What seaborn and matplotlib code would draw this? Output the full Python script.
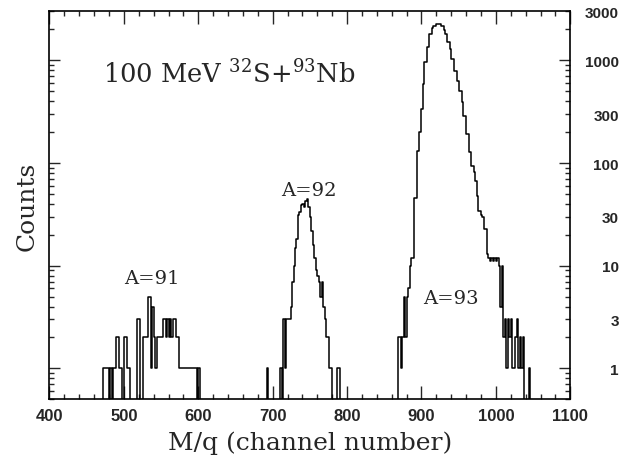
import numpy as np
import pandas as pd
import matplotlib
matplotlib.use("Agg")
import matplotlib.pyplot as plt
import seaborn as sns
from matplotlib.ticker import FixedLocator, MultipleLocator, FuncFormatter

# ---------------- data (2-channel bins, counts per bin) ----------------
bin_width = 2

peak91_start = 470
peak91_counts = [0, 1, 1, 1, 1, 0, 1, 0, 1, 1,
                 2, 2, 1, 1, 0, 2, 2, 1, 1, 0,
                 0, 0, 0, 0, 3, 3, 0, 0, 2, 2,
                 2, 5, 5, 1, 4, 2, 1, 2, 2, 2,
                 2, 3, 3, 2, 3, 2, 3, 2, 3, 3,
                 2, 2, 1, 1, 1, 1, 1, 1, 1, 1,
                 1, 1, 1, 1, 0, 1, 0]

peak92_start = 690
peak92_counts = [0, 1, 0, 0, 0, 0, 0, 0, 0, 0,
                 1, 0, 3, 1, 3, 3, 3, 4, 7, 10,
                 15, 18, 31, 33, 39, 40, 37, 43, 45, 37,
                 30, 22, 16, 12, 9, 8, 7, 5, 7, 4,
                 3, 2, 2, 1, 1, 0, 0, 0, 1, 1, 0]

peak93_start = 866
peak93_counts = [0, 2, 2, 1, 2, 5, 2, 5, 6, 10,
                 12, 12, 46, 46, 132, 202, 202, 338, 592, 969,
                 969, 1356, 1815, 1815, 2075, 2172, 2172, 2270, 2270, 2270,
                 2172, 2172, 1985, 1815, 1517, 1517, 1297, 1037, 1037, 792,
                 792, 630, 506, 506, 395, 289, 289, 193, 193, 129,
                 94, 94, 82, 67, 48, 34, 34, 31, 30, 23,
                 23, 13, 12, 11, 12, 11, 12, 11, 12, 10,
                 4, 10, 2, 3, 1, 3, 2, 3, 1, 1,
                 2, 3, 1, 2, 1, 2, 0, 0, 0, 1, 0]

x_tick_values = [400, 500, 600, 700, 800, 900, 1000, 1100]
y_decades = [1, 10, 100, 1000]
y_right_labels = [1, 3, 10, 30, 100, 300, 1000, 3000]

title_text = r"100 MeV $^{32}$S$+$$^{93}$Nb"
peak_labels = ["A=91", "A=92", "A=93"]
peak_label_pos = [(538, 7.5), (749, 55), (939, 4.8)]

# ---------------- build table ----------------
frames = []
for start, cnts in [(peak91_start, peak91_counts),
                    (peak92_start, peak92_counts),
                    (peak93_start, peak93_counts)]:
    ch = start + bin_width * np.arange(len(cnts)) + bin_width / 2
    frames.append(pd.DataFrame({"channel": ch, "counts": cnts}))
df = pd.concat(frames, ignore_index=True)

# ---------------- plot ----------------
sns.set_style("ticks")
plt.rcParams["mathtext.fontset"] = "dejavuserif"
plt.rcParams["font.family"] = ["DejaVu Serif"]

fig = plt.figure(figsize=(6.26, 4.6), dpi=100)
ax = fig.add_axes([0.079, 0.130, 0.832, 0.843])

sns.histplot(data=df, x="channel", weights="counts",
             binwidth=bin_width, binrange=(460, 1050),
             element="step", fill=False, color="black", linewidth=1.1, ax=ax)
ax.set_yscale("log")
ax.set_xlim(400, 1100)
ax.set_ylim(0.5, 3000)

for s in ax.spines.values():
    s.set_visible(True)
    s.set_linewidth(1.2)
    s.set_color("black")

# x ticks
ax.xaxis.set_major_locator(FixedLocator(x_tick_values))
ax.xaxis.set_minor_locator(MultipleLocator(20))
ax.tick_params(axis="x", which="both", direction="in", top=True, bottom=True)
ax.tick_params(axis="x", which="major", length=9.5, width=1.0, pad=6)
ax.tick_params(axis="x", which="minor", length=3.5, width=1.0)
for lbl in ax.get_xticklabels():
    lbl.set_fontfamily("Liberation Sans")
    lbl.set_fontweight("bold")
    lbl.set_fontsize(12)


def right_label(v, pos):
    for r in y_right_labels:
        if abs(v - r) < 1e-6 * r:
            return str(r)
    return ""


# y ticks
minor_vals = [m * d for d in [0.1, 1, 10, 100, 1000] for m in range(2, 10)]
ax.yaxis.set_major_locator(FixedLocator(y_decades))
ax.yaxis.set_minor_locator(FixedLocator(minor_vals))
ax.yaxis.set_major_formatter(FuncFormatter(right_label))
ax.yaxis.set_minor_formatter(FuncFormatter(right_label))
ax.tick_params(axis="y", which="both", direction="in", left=True, right=True,
               labelleft=False, labelright=True, pad=35)
ax.tick_params(axis="y", which="major", length=8, width=1.0)
ax.tick_params(axis="y", which="minor", length=3.5, width=1.0)
for t in ax.yaxis.get_major_ticks() + ax.yaxis.get_minor_ticks():
    t.label2.set_horizontalalignment("right")
    t.label2.set_fontfamily("Liberation Sans")
    t.label2.set_fontweight("bold")
    t.label2.set_fontsize(11)

ax.set_xlabel("M/q (channel number)", fontsize=18, labelpad=6)
ax.set_ylabel("Counts", fontsize=18, labelpad=8)

ax.text(472, 758, title_text, fontsize=18.5, ha="left", va="center")
for txt, (px, py) in zip(peak_labels, peak_label_pos):
    ax.text(px, py, txt, fontsize=14, ha="center", va="center")

fig.savefig("out.png", dpi=100)
